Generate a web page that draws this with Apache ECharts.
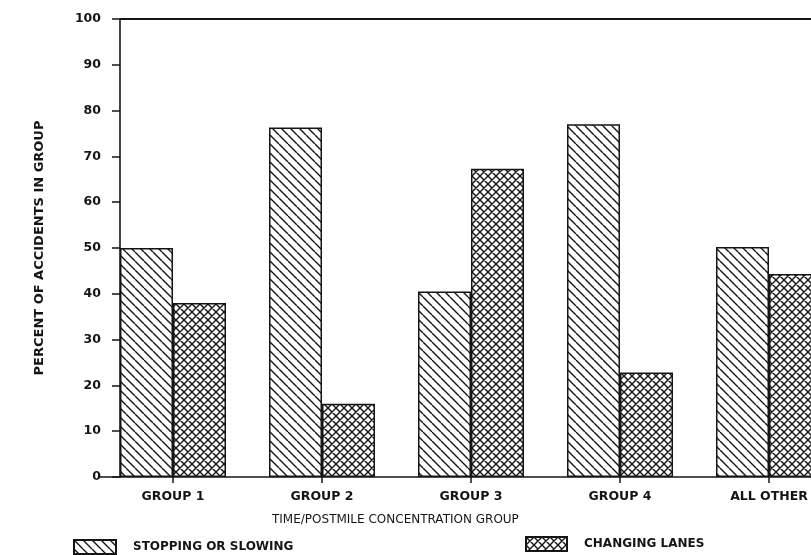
<!DOCTYPE html>
<html>
<head>
<meta charset="utf-8">
<script src="https://cdn.jsdelivr.net/npm/echarts@6/dist/echarts.min.js"></script>
<style>
  html, body { margin: 0; padding: 0; background: #fff; }
  #chart { width: 811px; height: 555px; }
</style>
</head>
<body>
<div id="chart"></div>
<script>
// Accident share by time/postmile concentration group
const categories = ['GROUP 1', 'GROUP 2', 'GROUP 3', 'GROUP 4', 'ALL OTHER'];
const stoppingOrSlowing = [50, 76.3, 40.5, 77, 50.2];
const changingLanes = [38, 16, 67.3, 22.8, 44.3];
const yTicks = { min: 0, max: 100, interval: 10 };

const FONT = '"DejaVu Sans", sans-serif';
const INK = '#151515';

// Tile patterns for the bar fills
function hatchTile(size) {
  const c = document.createElement('canvas');
  c.width = size; c.height = size;
  const g = c.getContext('2d');
  g.fillStyle = '#fff';
  g.fillRect(0, 0, size, size);
  g.strokeStyle = INK;
  g.lineWidth = 1.4;
  g.beginPath();
  for (const o of [-size, 0, size]) {
    g.moveTo(o, 0);
    g.lineTo(o + size, size);
  }
  g.stroke();
  return c;
}
function crossTile(size) {
  const c = document.createElement('canvas');
  c.width = size; c.height = size;
  const g = c.getContext('2d');
  g.fillStyle = '#fff';
  g.fillRect(0, 0, size, size);
  g.strokeStyle = INK;
  g.lineWidth = 1.4;
  g.beginPath();
  for (const o of [-size, 0, size]) {
    g.moveTo(o, 0);
    g.lineTo(o + size, size);
    g.moveTo(o + size, 0);
    g.lineTo(o, size);
  }
  g.stroke();
  return c;
}

const hatchFill = { image: hatchTile(9), repeat: 'repeat' };
const crossFill = { image: crossTile(8), repeat: 'repeat' };

const chart = echarts.init(document.getElementById('chart'), null, { renderer: 'canvas' });

const option = {
  animation: false,
  backgroundColor: '#fff',
  grid: { left: 98.5, top: 19, width: 745, bottom: 78, containLabel: false, outerBoundsMode: 'none' },
  title: {
    text: 'TIME/POSTMILE CONCENTRATION GROUP',
    left: 272,
    top: 514,
    padding: 0,
    textStyle: { fontFamily: FONT, fontSize: 12, fontWeight: 'normal', color: INK }
  },
  legend: [
    {
      data: ['STOPPING OR SLOWING'],
      left: 73, top: 539, padding: 0,
      itemWidth: 42, itemHeight: 14,
      icon: 'rect',
      textStyle: { fontFamily: FONT, fontSize: 12, fontWeight: 'bold', color: INK, padding: [0, 0, 0, 12] }
    },
    {
      data: ['CHANGING LANES'],
      left: 525, top: 536, padding: 0,
      itemWidth: 41, itemHeight: 14,
      icon: 'rect',
      textStyle: { fontFamily: FONT, fontSize: 12, fontWeight: 'bold', color: INK, padding: [0, 0, 0, 12] }
    }
  ],
  xAxis: {
    type: 'category',
    data: categories,
    axisLine: { show: true, lineStyle: { color: INK, width: 1.6 } },
    axisTick: { show: true, alignWithLabel: true, length: 6, lineStyle: { color: INK, width: 1.5 } },
    axisLabel: { margin: 13, fontFamily: FONT, fontSize: 12.5, fontWeight: 'bold', color: INK },
    splitLine: { show: false }
  },
  yAxis: {
    type: 'value',
    min: yTicks.min,
    max: yTicks.max,
    interval: yTicks.interval,
    offset: -21.5,
    name: 'PERCENT OF ACCIDENTS IN GROUP',
    nameLocation: 'middle',
    nameRotate: 90,
    nameGap: 74,
    nameTextStyle: { fontFamily: FONT, fontSize: 13, fontWeight: 'bold', color: INK },
    axisLine: { show: true, lineStyle: { color: INK, width: 1.6 } },
    axisTick: { show: true, length: 8, lineStyle: { color: INK, width: 1.5 } },
    axisLabel: { margin: 19, fontFamily: FONT, fontSize: 12.5, fontWeight: 'bold', color: INK },
    splitLine: { show: false }
  },
  series: [
    {
      name: 'STOPPING OR SLOWING',
      type: 'bar',
      data: stoppingOrSlowing,
      barWidth: 53,
      barGap: '0%',
      itemStyle: { color: hatchFill, borderColor: INK, borderWidth: 1.5 }
    },
    {
      name: 'CHANGING LANES',
      type: 'bar',
      data: changingLanes,
      barWidth: 53,
      barGap: '0%',
      itemStyle: { color: crossFill, borderColor: INK, borderWidth: 1.5 }
    }
  ]
};

chart.setOption(option);

// Frame line across the top of the plot at the axis maximum
const yTop = chart.convertToPixel({ yAxisIndex: 0 }, yTicks.max);
const axisX = option.grid.left - option.yAxis.offset;
chart.setOption({
  graphic: [{
    type: 'line',
    shape: { x1: axisX, y1: yTop, x2: 811, y2: yTop },
    style: { stroke: INK, lineWidth: 1.8 },
    z: 10
  }]
});
</script>
</body>
</html>
